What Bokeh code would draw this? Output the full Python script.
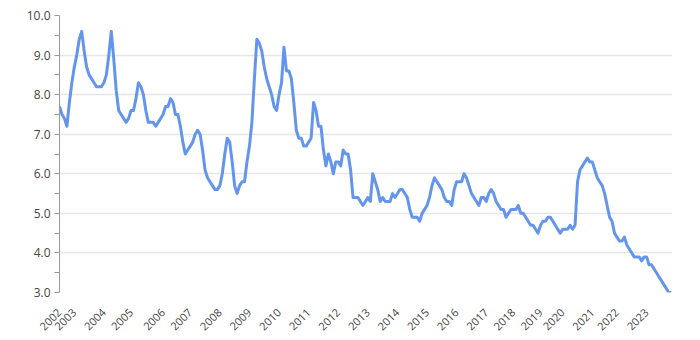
import math
from bokeh.plotting import figure
from bokeh.models import Range1d, FixedTicker, PrintfTickFormatter
from bokeh.embed import file_html
from bokeh.resources import INLINE

# monthly values (index = month position along the axis)
rate = [
    7.7, 7.5, 7.4, 7.2, 7.8, 8.3, 8.7, 9.0, 9.4, 9.6,
    9.1, 8.7, 8.5, 8.4, 8.3, 8.2, 8.2, 8.2, 8.3, 8.5,
    9.0, 9.6, 8.9, 8.1, 7.6, 7.5, 7.4, 7.3, 7.4, 7.6,
    7.6, 7.9, 8.3, 8.2, 8.0, 7.6, 7.3, 7.3, 7.3, 7.2,
    7.3, 7.4, 7.5, 7.7, 7.7, 7.9, 7.8, 7.5, 7.5, 7.2,
    6.8, 6.5, 6.6, 6.7, 6.8, 7.0, 7.1, 7.0, 6.6, 6.1,
    5.9, 5.8, 5.7, 5.6, 5.6, 5.7, 6.0, 6.5, 6.9, 6.8,
    6.3, 5.7, 5.5, 5.7, 5.8, 5.8, 6.3, 6.7, 7.3, 8.4,
    9.4, 9.3, 9.1, 8.7, 8.4, 8.2, 8.0, 7.7, 7.6, 8.0,
    8.3, 9.2, 8.6, 8.6, 8.4, 7.8, 7.1, 6.9, 6.9, 6.7,
    6.7, 6.8, 6.9, 7.8, 7.6, 7.2, 7.2, 6.6, 6.2, 6.5,
    6.3, 6.0, 6.3, 6.3, 6.2, 6.6, 6.5, 6.5, 6.1, 5.4,
    5.4, 5.4, 5.3, 5.2, 5.3, 5.4, 5.3, 6.0, 5.8, 5.6,
    5.3, 5.4, 5.3, 5.3, 5.3, 5.5, 5.4, 5.5, 5.6, 5.6,
    5.5, 5.4, 5.1, 4.9, 4.9, 4.9, 4.8, 5.0, 5.1, 5.2,
    5.4, 5.7, 5.9, 5.8, 5.7, 5.6, 5.4, 5.3, 5.3, 5.2,
    5.6, 5.8, 5.8, 5.8, 6.0, 5.9, 5.7, 5.5, 5.4, 5.3,
    5.2, 5.4, 5.4, 5.3, 5.5, 5.6, 5.5, 5.3, 5.2, 5.1,
    5.1, 4.9, 5.0, 5.1, 5.1, 5.1, 5.2, 5.0, 5.0, 4.9,
    4.8, 4.7, 4.7, 4.6, 4.5, 4.7, 4.8, 4.8, 4.9, 4.9,
    4.8, 4.7, 4.6, 4.5, 4.6, 4.6, 4.6, 4.7, 4.6, 4.7,
    5.8, 6.1, 6.2, 6.3, 6.4, 6.3, 6.3, 6.1, 5.9, 5.8,
    5.7, 5.5, 5.2, 4.9, 4.8, 4.5, 4.4, 4.3, 4.3, 4.4,
    4.2, 4.1, 4.0, 3.9, 3.9, 3.9, 3.8, 3.9, 3.9, 3.7,
    3.7, 3.6, 3.5, 3.4, 3.3, 3.2, 3.1, 3.0, 3.0,
]
month_index = list(range(len(rate)))

year_labels = ["2002", "2003", "2004", "2005", "2006", "2007", "2008", "2009",
               "2010", "2011", "2012", "2013", "2014", "2015", "2016", "2017",
               "2018", "2019", "2020", "2021", "2022", "2023"]
year_tick_index = [0, 6, 18, 29, 42, 53, 65, 77, 89, 101, 113, 125, 137, 149,
                   161, 173, 184, 195, 204, 216, 226, 238]

y_ticks = [3, 4, 5, 6, 7, 8, 9, 10]
y_minor = [3.5, 4.5, 5.5, 6.5, 7.5, 8.5, 9.5]

FONT = "Open Sans"
TXT = "#444444"

p = figure(width=700, height=340, output_backend="svg", toolbar_location=None,
           x_range=Range1d(0, 248.5), y_range=Range1d(3, 10))
p.min_border_left = 59
p.min_border_right = 28
p.min_border_top = 15
p.min_border_bottom = 48
p.outline_line_color = None
p.background_fill_color = "white"
p.border_fill_color = "white"

p.line(month_index, rate, line_color="#6495ED", line_width=3, line_join="round")

# y axis
ya = p.yaxis[0]
ya.ticker = FixedTicker(ticks=y_ticks, minor_ticks=y_minor)
ya.formatter = PrintfTickFormatter(format="%.1f")
ya.axis_line_color = "#999999"
ya.major_tick_line_color = "#999999"
ya.minor_tick_line_color = "#999999"
ya.major_tick_out = 5
ya.major_tick_in = 0
ya.minor_tick_out = 5
ya.minor_tick_in = 0
ya.major_label_text_font = FONT
ya.major_label_text_font_size = "12px"
ya.major_label_text_color = TXT
ya.major_label_standoff = 4

# x axis
xa = p.xaxis[0]
xa.ticker = FixedTicker(ticks=year_tick_index)
xa.major_label_overrides = {i: s for i, s in zip(year_tick_index, year_labels)}
xa.axis_line_color = None
xa.major_tick_line_color = None
xa.minor_tick_line_color = None
xa.major_label_orientation = math.pi / 4
xa.major_label_text_font = FONT
xa.major_label_text_font_size = "11px"
xa.major_label_text_color = TXT
xa.major_label_standoff = 12

p.xgrid.grid_line_color = None
p.ygrid.grid_line_color = "#e6e6e6"
p.ygrid.grid_line_width = 1.5

open("out.html", "w").write(file_html(p, INLINE))
